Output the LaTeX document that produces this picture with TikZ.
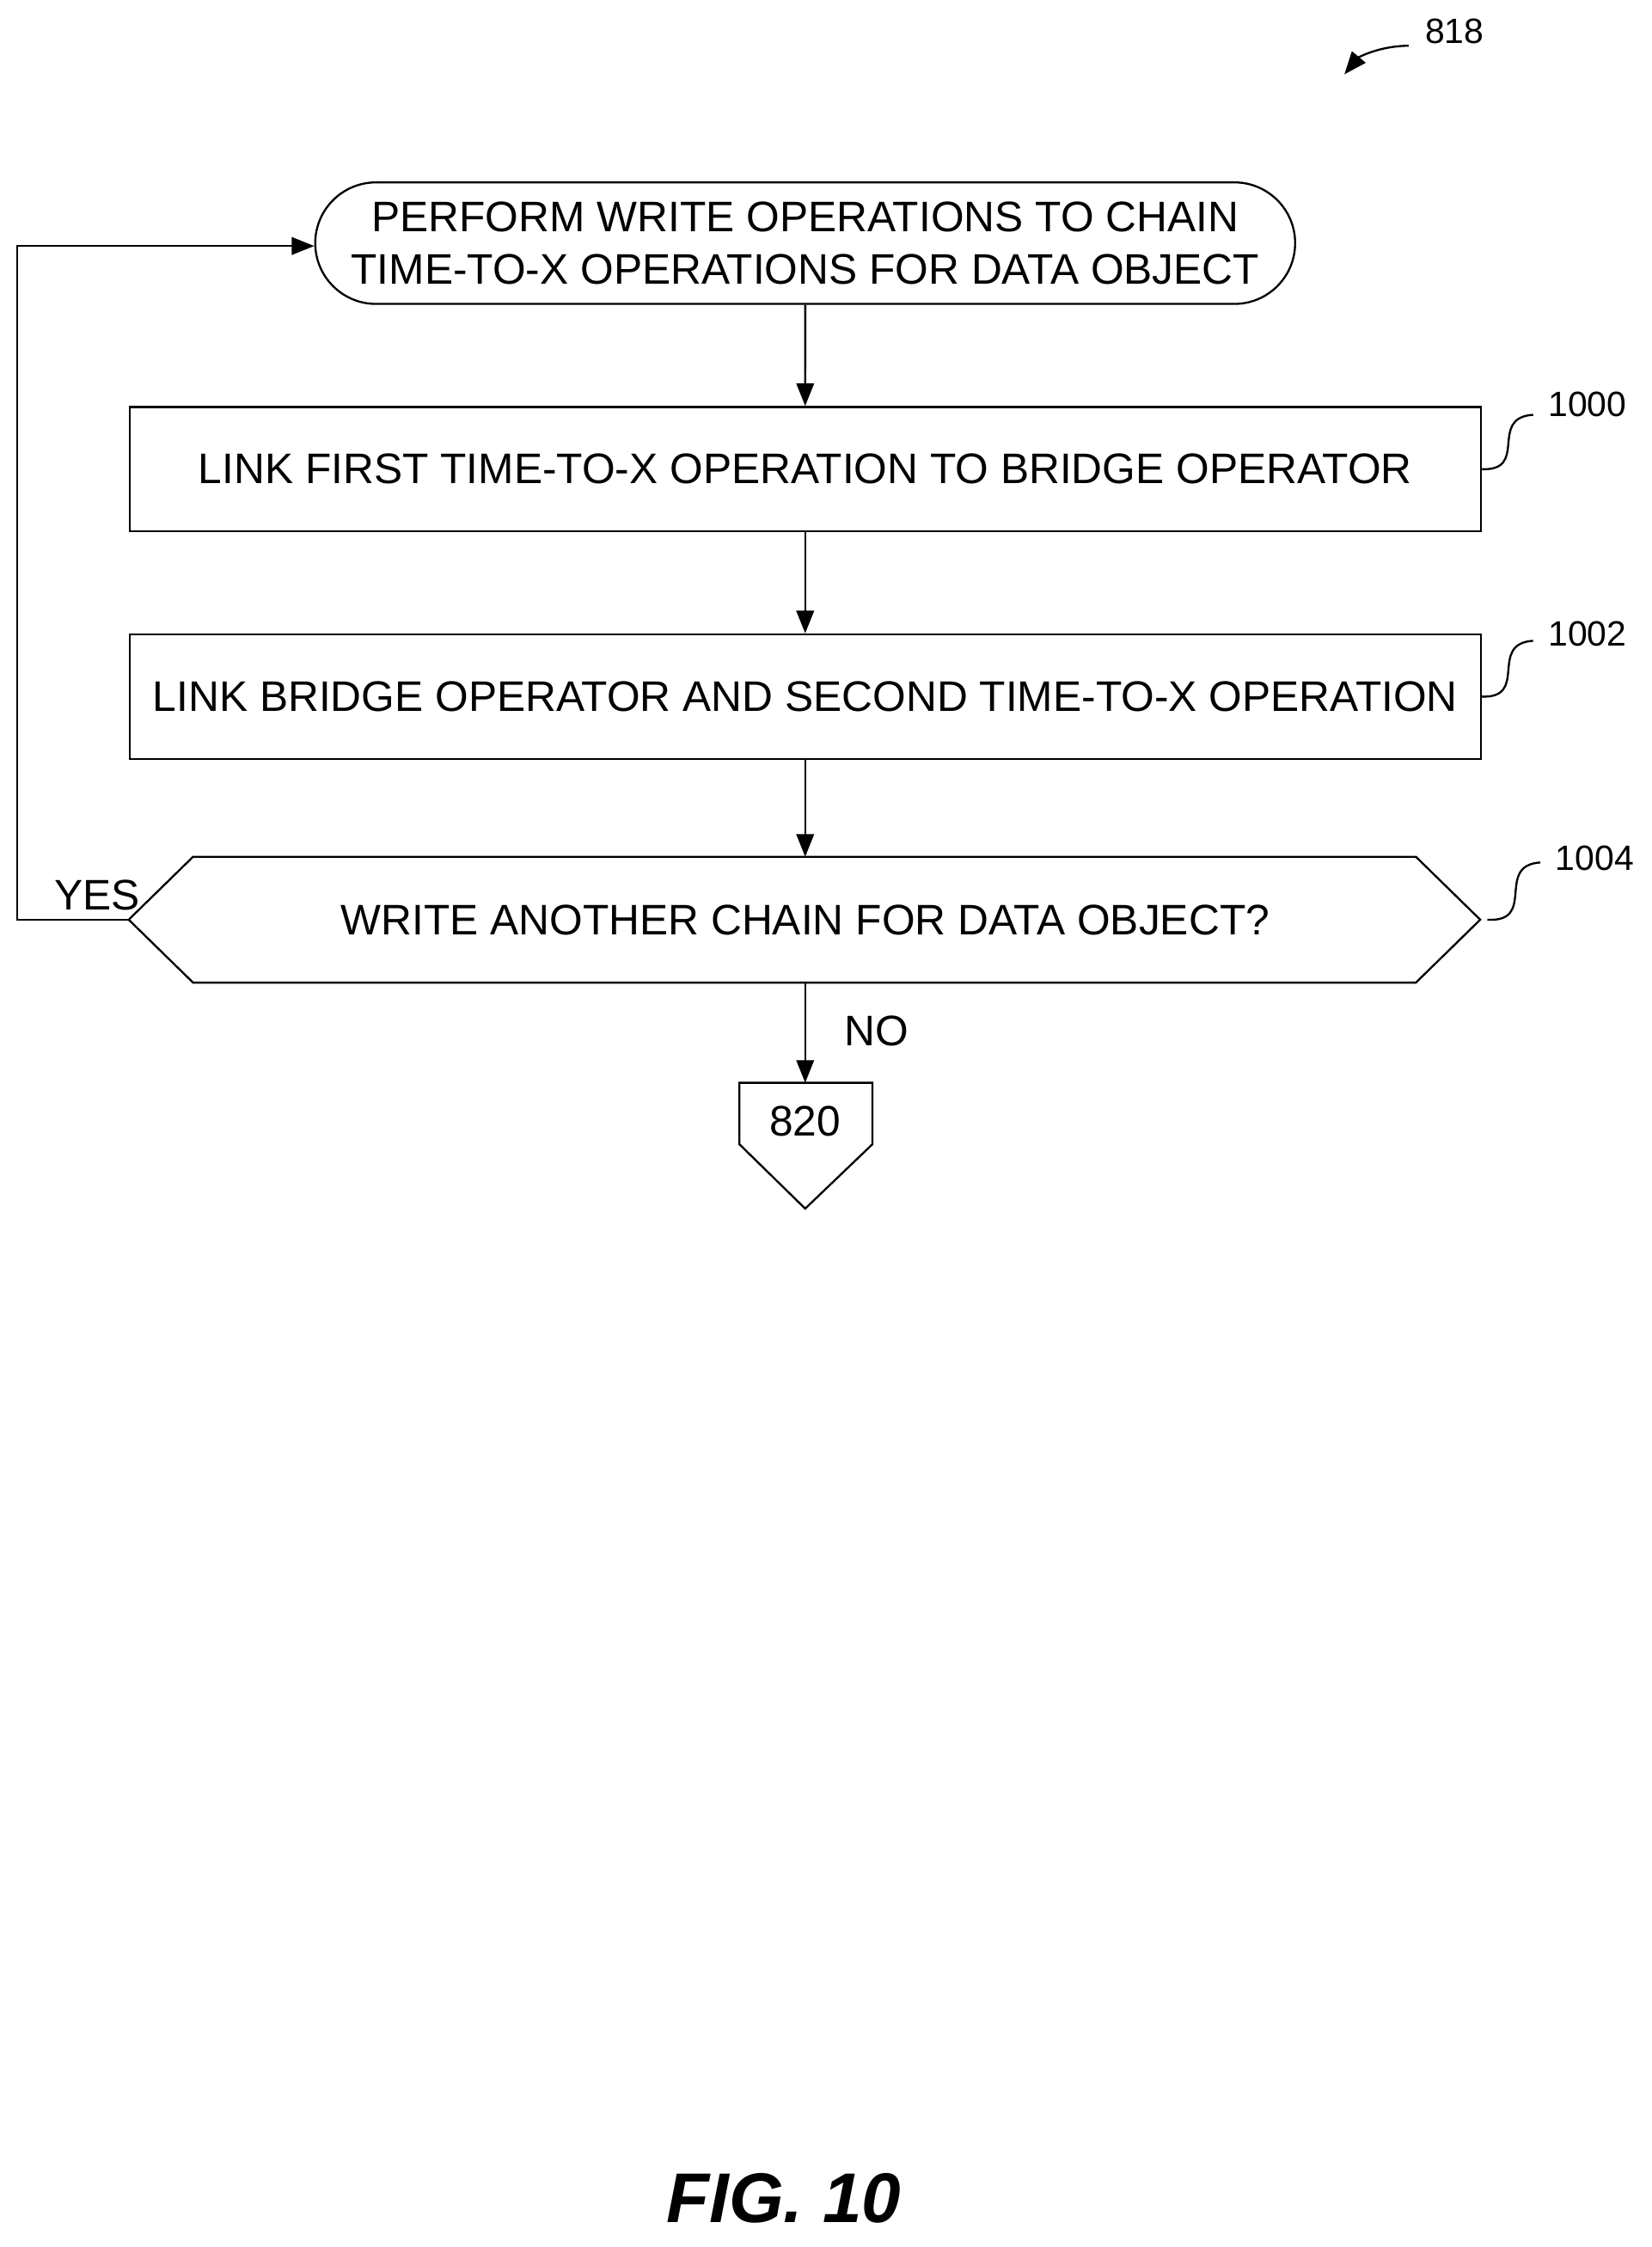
\documentclass[tikz,border=0pt]{standalone}
\usepackage{fontspec}
\setmainfont{Liberation Sans}
\usetikzlibrary{positioning,shapes.misc,shapes.symbols,arrows.meta}
\tikzset{
  proc/.style={draw,thick,minimum width=18.9cm,minimum height=1.74cm,font=\fontsize{17}{21}\selectfont},
  term/.style={draw,thick,rounded rectangle,minimum width=13.94cm,minimum height=1.7cm,align=center,font=\fontsize{17}{21}\selectfont},
  ref/.style={font=\fontsize{14}{16}\selectfont},
  flow/.style={-{Triangle[length=9pt,width=7pt]},thick}
}
\begin{document}
\begin{tikzpicture}[x=0.02cm,y=-0.02cm]
\useasboundingbox (0,0) rectangle (1155,1571);
% steps
\node[term] (start) at (563,170) {PERFORM WRITE OPERATIONS TO CHAIN\\TIME-TO-X OPERATIONS FOR DATA OBJECT};
\node[proc] (link1) at (563,328) {LINK FIRST TIME-TO-X OPERATION TO BRIDGE OPERATOR};
\node[proc] (link2) at (563,487) {LINK BRIDGE OPERATOR AND SECOND TIME-TO-X OPERATION};
\draw[thick] (90,643) -- (135,599) -- (990,599) -- (1035,643) -- (990,687) -- (135,687) -- cycle;
\node[font=\fontsize{17}{21}\selectfont] (ask) at (563,643) {WRITE ANOTHER CHAIN FOR DATA OBJECT?};
\coordinate (askw) at (90,643);
\coordinate (askn) at (563,599);
\coordinate (asks) at (563,687);
\draw[thick] (517,757) -- (610,757) -- (610,800) -- (563,845) -- (517,800) -- cycle;
\node[font=\fontsize{17}{21}\selectfont] (off) at (563,784) {820};
\coordinate (offn) at (563,757);
% connectors
\draw[flow] (start) -- (link1);
\draw[flow] (link1) -- (link2);
\draw[flow] (link2) -- (askn);
\draw[flow] (asks) -- (offn);
\draw[flow] (askw) -- (12,643) -- (12,172) -- (start.west |- 0,172);
\node[font=\fontsize{17}{21}\selectfont] at (68,626) {YES};
\node[font=\fontsize{17}{21}\selectfont] at (613,721) {NO};
% reference numerals
\draw[thick] (1035,328) .. controls (1070,330) and (1040,292) .. (1072,290);
\node[ref] at (1110,283) {1000};
\draw[thick] (1035,487) .. controls (1070,489) and (1040,450) .. (1072,448);
\node[ref] at (1110,443) {1002};
\draw[thick] (1040,643) .. controls (1075,645) and (1045,605) .. (1077,603);
\node[ref] at (1115,600) {1004};
\node[ref] (num) at (1017,22) {818};
\draw[flow] (985,32) .. controls (965,32) and (950,40) .. (940,52);
\node[font=\fontsize{28}{32}\selectfont\bfseries\itshape] (fig) at (548,1537) {FIG. 10};
\end{tikzpicture}
\end{document}
